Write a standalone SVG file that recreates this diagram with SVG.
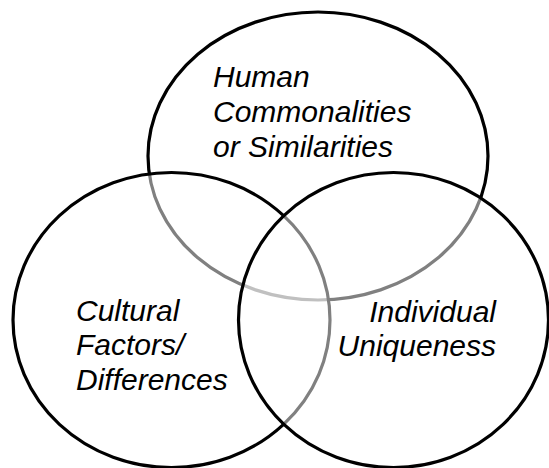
<svg xmlns="http://www.w3.org/2000/svg" width="549" height="468" viewBox="0 0 549 468">
<style>
.c{fill:#fff;fill-opacity:0.5;stroke:#000;stroke-width:3.2}
.t{font-family:"Liberation Sans",Arial,sans-serif;font-style:italic;font-size:30px;fill:#000}
</style>
<rect width="549" height="468" fill="#fff"/>
<g id="connectors"/>
<g id="node-human">
<ellipse class="c" cx="318" cy="156" rx="170" ry="144"/>
</g>
<g id="node-cultural">
<ellipse class="c" cx="171.5" cy="320" rx="158.5" ry="147.5"/>
</g>
<g id="node-individual">
<ellipse class="c" cx="393.5" cy="320" rx="155" ry="147.5"/>
</g>
<g id="labels">
<text class="t" x="213" y="87">Human</text>
<text class="t" x="213" y="122">Commonalities</text>
<text class="t" x="213" y="157">or Similarities</text>
<text class="t" x="76" y="321">Cultural</text>
<text class="t" x="76" y="355">Factors/</text>
<text class="t" x="76" y="390">Differences</text>
<text class="t" x="496" y="322" text-anchor="end">Individual</text>
<text class="t" x="496" y="356" text-anchor="end">Uniqueness</text>
</g>
</svg>
